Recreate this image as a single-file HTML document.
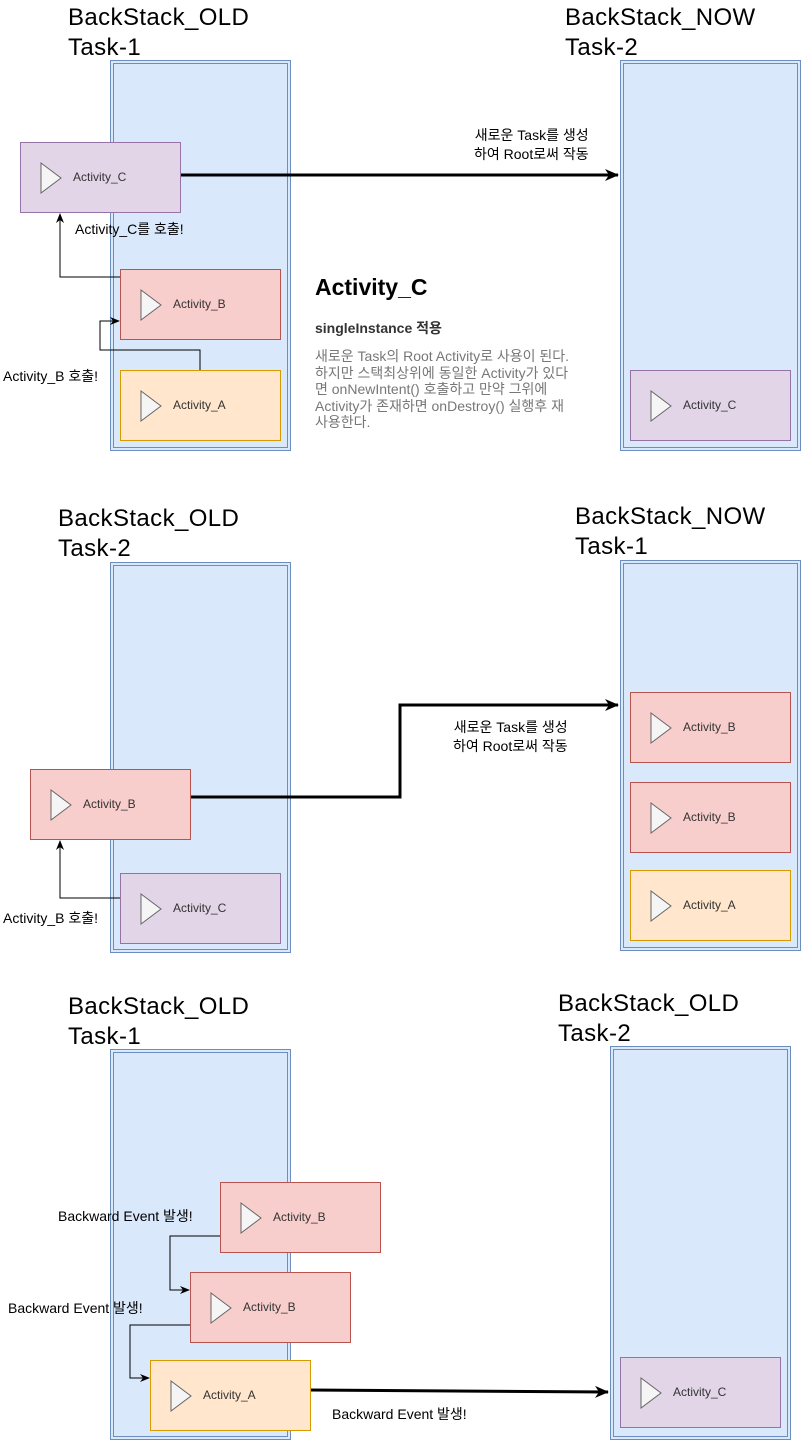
<!DOCTYPE html>
<html><head><meta charset="utf-8"><style>
body{margin:0;width:801px;height:1441px;background:#fff;position:relative;overflow:hidden;font-family:"Liberation Sans","Noto Sans CJK KR",sans-serif;}
.a{position:absolute}
.cont{position:absolute;background:#dae8fc;border:1px solid #6c8ebf;box-sizing:border-box}
.cont::after{content:"";position:absolute;left:2px;top:2px;right:2px;bottom:2px;border:1px solid #6c8ebf}
.box{position:absolute;width:161px;height:71px;box-sizing:border-box;border:1px solid}
.p{background:#e1d5e7;border-color:#9673a6}.r{background:#f8cecc;border-color:#b85450}.o{background:#ffe6cc;border-color:#d79b00}
.box svg{position:absolute;left:19px;top:19px}
.box span{position:absolute;left:52px;top:27px;font-size:12px;color:#333}
.t{position:absolute;font-size:24px;line-height:30px;color:#000;letter-spacing:0.4px;white-space:nowrap}
.l{position:absolute;font-size:14px;color:#000;white-space:nowrap}
</style></head><body>
<div class="t" style="left:68px;top:3px">BackStack_OLD<br>Task-1</div>
<div class="t" style="left:565px;top:3px">BackStack_NOW<br>Task-2</div>
<div class="t" style="left:58px;top:504px">BackStack_OLD<br>Task-2</div>
<div class="t" style="left:575px;top:502px">BackStack_NOW<br>Task-1</div>
<div class="t" style="left:68px;top:992px">BackStack_OLD<br>Task-1</div>
<div class="t" style="left:558px;top:989px">BackStack_OLD<br>Task-2</div>

<div class="cont" style="left:110px;top:60px;width:181px;height:391px"></div>
<div class="cont" style="left:620px;top:60px;width:181px;height:391px"></div>
<div class="cont" style="left:110px;top:562px;width:181px;height:391px"></div>
<div class="cont" style="left:620px;top:560px;width:181px;height:391px"></div>
<div class="cont" style="left:110px;top:1049px;width:181px;height:391px"></div>
<div class="cont" style="left:610px;top:1046px;width:181px;height:394px"></div>

<svg class="a" style="left:0;top:0" width="801" height="1441">
<defs><marker id="m" markerWidth="10" markerHeight="10" refX="9" refY="5" orient="auto" markerUnits="userSpaceOnUse"><path d="M0,1 L10,5 L0,9 L3,5z" fill="#000"/></marker>
<marker id="M" markerWidth="14" markerHeight="14" refX="13" refY="7" orient="auto" markerUnits="userSpaceOnUse"><path d="M0,1 L14,7 L0,13 L4,7z" fill="#000"/></marker></defs>
<g fill="none" stroke="#000">
<path d="M180,175 H618" stroke-width="3" marker-end="url(#M)"/>
<path d="M120,277 H60 V214" marker-end="url(#m)"/>
<path d="M200,370 V350 H100 V321 H119" marker-end="url(#m)"/>
<path d="M180,797 H400 V705 H618" stroke-width="3" marker-end="url(#M)"/>
<path d="M120,898 H60 V841" marker-end="url(#m)"/>
<path d="M220,1236 H170 V1290 H189" marker-end="url(#m)"/>
<path d="M190,1325 H130 V1378 H149" marker-end="url(#m)"/>
<path d="M310,1390 L608,1392" stroke-width="3" marker-end="url(#M)"/>
</g></svg>

<div class="box p" style="left:20px;top:142px"><svg width="22" height="32"><path d="M1,1 L21,16 L1,31z" fill="#f5f5f5" stroke="#666"/></svg><span>Activity_C</span></div>
<div class="box r" style="left:120px;top:269px"><svg width="22" height="32"><path d="M1,1 L21,16 L1,31z" fill="#f5f5f5" stroke="#666"/></svg><span>Activity_B</span></div>
<div class="box o" style="left:120px;top:370px"><svg width="22" height="32"><path d="M1,1 L21,16 L1,31z" fill="#f5f5f5" stroke="#666"/></svg><span>Activity_A</span></div>
<div class="box p" style="left:630px;top:370px"><svg width="22" height="32"><path d="M1,1 L21,16 L1,31z" fill="#f5f5f5" stroke="#666"/></svg><span>Activity_C</span></div>

<div class="box r" style="left:30px;top:769px"><svg width="22" height="32"><path d="M1,1 L21,16 L1,31z" fill="#f5f5f5" stroke="#666"/></svg><span>Activity_B</span></div>
<div class="box p" style="left:120px;top:873px"><svg width="22" height="32"><path d="M1,1 L21,16 L1,31z" fill="#f5f5f5" stroke="#666"/></svg><span>Activity_C</span></div>
<div class="box r" style="left:630px;top:692px"><svg width="22" height="32"><path d="M1,1 L21,16 L1,31z" fill="#f5f5f5" stroke="#666"/></svg><span>Activity_B</span></div>
<div class="box r" style="left:630px;top:782px"><svg width="22" height="32"><path d="M1,1 L21,16 L1,31z" fill="#f5f5f5" stroke="#666"/></svg><span>Activity_B</span></div>
<div class="box o" style="left:630px;top:870px"><svg width="22" height="32"><path d="M1,1 L21,16 L1,31z" fill="#f5f5f5" stroke="#666"/></svg><span>Activity_A</span></div>

<div class="box r" style="left:220px;top:1182px"><svg width="22" height="32"><path d="M1,1 L21,16 L1,31z" fill="#f5f5f5" stroke="#666"/></svg><span>Activity_B</span></div>
<div class="box r" style="left:190px;top:1272px"><svg width="22" height="32"><path d="M1,1 L21,16 L1,31z" fill="#f5f5f5" stroke="#666"/></svg><span>Activity_B</span></div>
<div class="box o" style="left:150px;top:1360px"><svg width="22" height="32"><path d="M1,1 L21,16 L1,31z" fill="#f5f5f5" stroke="#666"/></svg><span>Activity_A</span></div>
<div class="box p" style="left:620px;top:1357px"><svg width="22" height="32"><path d="M1,1 L21,16 L1,31z" fill="#f5f5f5" stroke="#666"/></svg><span>Activity_C</span></div>

<div class="l" style="left:474px;top:126px;line-height:19px;text-align:right">새로운 Task를 생성<br>하여 Root로써 작동</div>
<div class="l" style="left:75px;top:219px">Activity_C를 호출!</div>
<div class="l" style="left:3px;top:366px">Activity_B 호출!</div>
<div class="a" style="left:315px;top:274px;font-size:23px;font-weight:bold">Activity_C</div>
<div class="l" style="left:315px;top:318px;font-weight:bold;color:#333">singleInstance 적용</div>
<div class="a" style="left:315px;top:348px;font-size:14px;line-height:16.6px;color:#777;white-space:nowrap">새로운 Task의 Root Activity로 사용이 된다.<br>하지만 스택최상위에 동일한 Activity가 있다<br>면 onNewIntent() 호출하고 만약 그위에<br>Activity가 존재하면 onDestroy() 실행후 재<br>사용한다.</div>

<div class="l" style="left:453px;top:718px;line-height:19px;text-align:right">새로운 Task를 생성<br>하여 Root로써 작동</div>
<div class="l" style="left:3px;top:908px">Activity_B 호출!</div>

<div class="l" style="left:58px;top:1206px">Backward Event 발생!</div>
<div class="l" style="left:8px;top:1298px">Backward Event 발생!</div>
<div class="l" style="left:332px;top:1404px">Backward Event 발생!</div>
</body></html>
